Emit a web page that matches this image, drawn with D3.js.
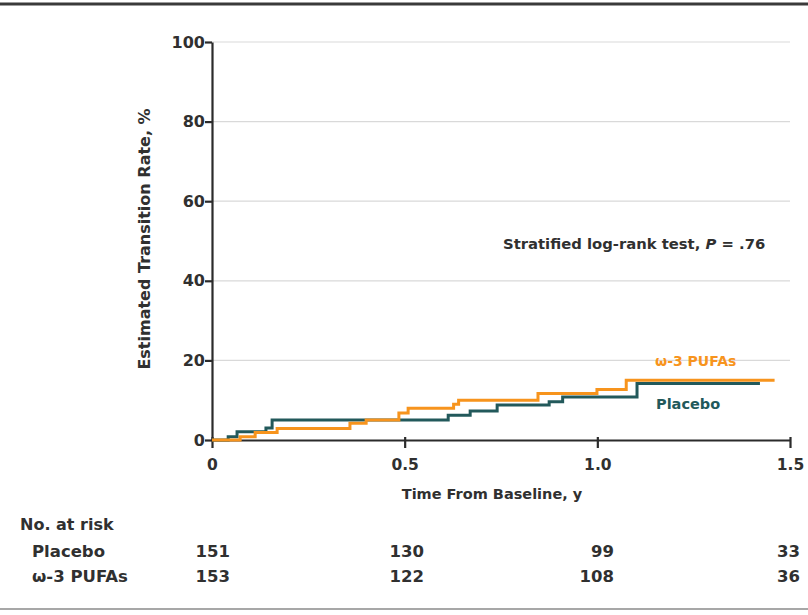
<!DOCTYPE html>
<html lang="en">
<head>
<meta charset="UTF-8">
<script src="https://d3js.org/d3.v7.min.js"></script>
<style>
  body { margin: 0; background: #fff; }
  svg text { fill: #303030; font-family: "DejaVu Sans", Verdana, sans-serif; font-weight: bold; }
</style>
</head>
<body>
<svg id="chart" width="808" height="615"></svg>
<script>
// step points: [time (y), estimated transition rate (%)]
const placebo = [
  [0, 0], [0.042, 0.8], [0.065, 2.1], [0.14, 3.0], [0.156, 5.0],
  [0.613, 6.2], [0.67, 7.3], [0.74, 8.8], [0.875, 9.6], [0.91, 10.8],
  [1.103, 14.2], [1.422, 14.2]
];
const pufa = [
  [0, 0], [0.073, 0.8], [0.112, 1.9], [0.169, 2.9], [0.358, 4.2],
  [0.40, 5.0], [0.485, 6.8], [0.509, 8.0], [0.627, 9.0], [0.64, 10.0],
  [0.846, 11.7], [0.999, 12.7], [1.075, 15.0], [1.46, 15.0]
];
const xTicks = [0, 0.5, 1.0, 1.5];
const yTicks = [0, 20, 40, 60, 80, 100];
const riskGroups = ["Placebo", "ω-3 PUFAs"];
const riskPlacebo = [151, 130, 99, 33];
const riskPufa = [153, 122, 108, 36];

const colPlacebo = "#22595b";
const colPufa = "#f7941d";

const svg = d3.select("#chart");
const margin = { top: 42, left: 212, right: 18, bottom: 175 };
const W = 808, H = 615;

const x = d3.scaleLinear().domain([0, 1.5]).range([margin.left, W - margin.right]);
const y = d3.scaleLinear().domain([0, 100]).range([H - margin.bottom, margin.top]);

// frame rules
svg.append("line").attr("x1", 0).attr("x2", W).attr("y1", 4).attr("y2", 4)
  .attr("stroke", "#3a3a3a").attr("stroke-width", 3);
svg.append("line").attr("x1", 0).attr("x2", W).attr("y1", 609).attr("y2", 609)
  .attr("stroke", "#8a8a8a").attr("stroke-width", 1.5);

// gridlines
svg.append("g").selectAll("line")
  .data(yTicks.filter(d => d > 0))
  .join("line")
  .attr("x1", x(0)).attr("x2", x(1.5))
  .attr("y1", d => y(d)).attr("y2", d => y(d))
  .attr("stroke", "#d9d9d9").attr("stroke-width", 1.2);

// y axis
const yAxis = svg.append("g")
  .attr("transform", `translate(${x(0)},0)`)
  .call(d3.axisLeft(y).tickValues(yTicks).tickSize(7).tickPadding(0).tickSizeOuter(0));
yAxis.select(".domain").attr("stroke", "#2b2b2b").attr("stroke-width", 2.2);
yAxis.selectAll(".tick line").attr("stroke", "#2b2b2b").attr("stroke-width", 2.2);
yAxis.selectAll("text").style("font-size", "16px").attr("fill", null);

// x axis
const xAxis = svg.append("g")
  .attr("transform", `translate(0,${y(0)})`)
  .call(d3.axisBottom(x).tickValues(xTicks).tickFormat(d => d === 0 ? "0" : d3.format(".1f")(d))
    .tickSize(8).tickPadding(11).tickSizeOuter(0));
xAxis.select(".domain").attr("stroke", "#2b2b2b").attr("stroke-width", 2.2);
xAxis.selectAll(".tick line").attr("stroke", "#2b2b2b").attr("stroke-width", 2.2).attr("y1", -3);
xAxis.selectAll("text").style("font-size", "15.5px").attr("fill", null);

// axis titles
svg.append("text")
  .attr("transform", `translate(150,239) rotate(-90)`)
  .attr("text-anchor", "middle")
  .style("font-size", "16px")
  .text("Estimated Transition Rate, %");
svg.append("text")
  .attr("x", 492).attr("y", 499)
  .attr("text-anchor", "middle")
  .style("font-size", "14.5px")
  .text("Time From Baseline, y");

// curves
const line = d3.line().x(d => x(d[0])).y(d => y(d[1])).curve(d3.curveStepAfter);
svg.append("path").datum(placebo).attr("d", line)
  .attr("fill", "none").attr("stroke", colPlacebo).attr("stroke-width", 3);
svg.append("path").datum(pufa).attr("d", line)
  .attr("fill", "none").attr("stroke", colPufa).attr("stroke-width", 3);

// curve labels
svg.append("text").attr("x", 655).attr("y", 366)
  .style("font-size", "14px").style("fill", colPufa).text("ω-3 PUFAs");
svg.append("text").attr("x", 656).attr("y", 409)
  .style("font-size", "14.5px").style("fill", colPlacebo).text("Placebo");

// annotation
const ann = svg.append("text").attr("x", 503).attr("y", 249)
  .style("font-size", "14.8px");
ann.append("tspan").text("Stratified log-rank test, ");
ann.append("tspan").style("font-style", "italic").text("P");
ann.append("tspan").text(" = .76");

// number at risk table
svg.append("text").attr("x", 20).attr("y", 530).style("font-size", "16px").text("No. at risk");
const rows = [riskPlacebo, riskPufa];
const rowY = [557, 582];
const colEnd = [230, 424, 614, 800];
rows.forEach((vals, i) => {
  svg.append("text").attr("x", 32).attr("y", rowY[i]).style("font-size", "16.5px").text(riskGroups[i]);
  svg.append("g").selectAll("text")
    .data(vals)
    .join("text")
    .attr("x", (d, j) => colEnd[j])
    .attr("y", rowY[i])
    .attr("text-anchor", "end")
    .style("font-size", "16.5px")
    .text(d => d);
});
</script>
</body>
</html>
